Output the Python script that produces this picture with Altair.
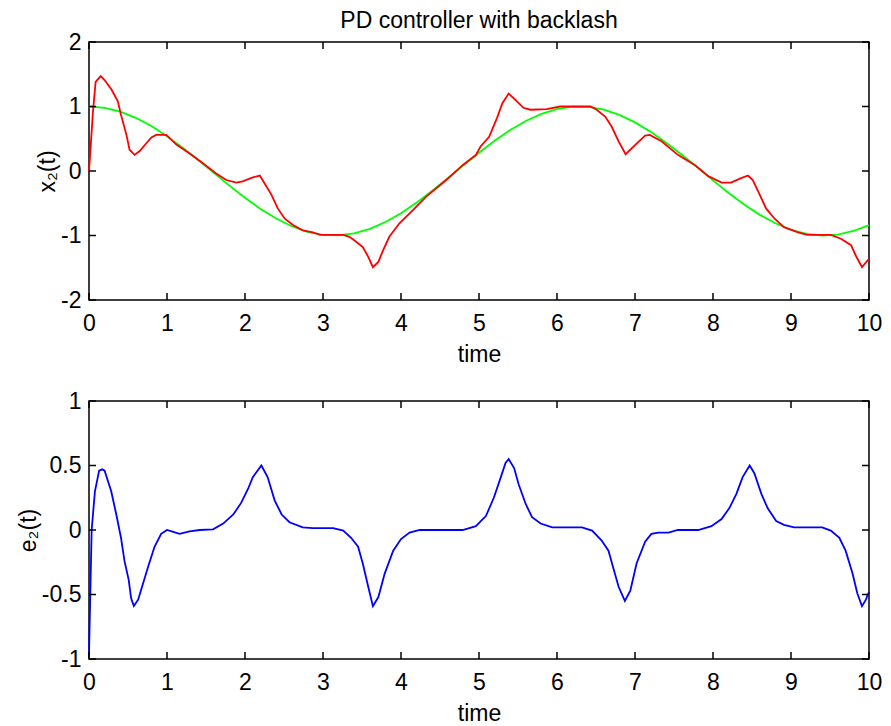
import altair as alt
import pandas as pd

# ---------------- data ----------------
x_ticks = [0, 1, 2, 3, 4, 5, 6, 7, 8, 9, 10]
top_y_ticks = [-2, -1, 0, 1, 2]
bot_y_ticks = [-1, -0.5, 0, 0.5, 1]
chart_title = ["PD controller with backlash"]

# reference trajectory (green)
green_t = [0, 0.2, 0.4, 0.6, 0.8, 1.0, 1.2, 1.4, 1.6, 1.8, 2.0, 2.2, 2.4, 2.6, 2.8,
           3.0, 3.2, 3.4, 3.6, 3.8, 4.0, 4.2, 4.4, 4.6, 4.8, 5.0, 5.2, 5.4, 5.6, 5.8,
           6.0, 6.2, 6.4, 6.6, 6.8, 7.0, 7.2, 7.4, 7.6, 7.8, 8.0, 8.2, 8.4, 8.6, 8.8,
           9.0, 9.2, 9.4, 9.6, 9.8, 10.0]
green_v = [1.00, 0.98, 0.92, 0.825, 0.697, 0.540, 0.362, 0.170, -0.029, -0.227, -0.416,
           -0.589, -0.737, -0.857, -0.942, -0.990, -0.998, -0.967, -0.897, -0.791, -0.654,
           -0.490, -0.307, -0.112, 0.087, 0.284, 0.469, 0.635, 0.776, 0.886, 0.960,
           0.997, 0.993, 0.950, 0.870, 0.754, 0.608, 0.439, 0.253, 0.058, -0.146,
           -0.340, -0.520, -0.680, -0.811, -0.911, -0.975, -1.000, -0.985, -0.930, -0.839]

# actual output x2(t) (red)
red_t = [0, 0.02, 0.05, 0.085, 0.15, 0.2, 0.29, 0.37, 0.41, 0.48, 0.52, 0.585, 0.65, 0.735,
         0.8, 0.86, 0.99, 1.12, 1.29, 1.46, 1.63, 1.76, 1.89, 1.97, 2.1, 2.19, 2.25, 2.34,
         2.42, 2.51, 2.62, 2.74, 2.87, 2.96, 3.26, 3.34, 3.43, 3.51, 3.58, 3.64, 3.71, 3.77,
         3.85, 3.98, 4.15, 4.32, 4.58, 4.79, 4.96, 5.02, 5.13, 5.23, 5.3, 5.38, 5.47, 5.57,
         5.66, 5.87, 6.04, 6.43, 6.51, 6.62, 6.70, 6.79, 6.88, 7.0, 7.13, 7.19, 7.34, 7.55,
         7.77, 7.94, 8.11, 8.23, 8.36, 8.45, 8.51, 8.60, 8.68, 8.79, 8.91, 9.09, 9.21, 9.51,
         9.64, 9.77, 9.83, 9.91, 10.0]
red_v = [0.0, 0.35, 0.91, 1.38, 1.47, 1.41, 1.26, 1.08, 0.87, 0.56, 0.33, 0.25, 0.31, 0.43,
         0.52, 0.56, 0.56, 0.41, 0.27, 0.12, -0.04, -0.14, -0.18, -0.16, -0.10, -0.07, -0.19,
         -0.37, -0.58, -0.74, -0.84, -0.92, -0.95, -0.99, -0.99, -1.02, -1.10, -1.18, -1.33,
         -1.49, -1.41, -1.23, -1.02, -0.81, -0.61, -0.40, -0.14, 0.09, 0.25, 0.38, 0.53, 0.82,
         1.05, 1.20, 1.10, 0.98, 0.95, 0.96, 1.0, 1.0, 0.95, 0.84, 0.69, 0.46, 0.26, 0.40,
         0.55, 0.56, 0.46, 0.25, 0.09, -0.08, -0.18, -0.18, -0.11, -0.07, -0.14, -0.37, -0.58,
         -0.74, -0.87, -0.95, -0.99, -0.99, -1.05, -1.15, -1.31, -1.49, -1.36]

# tracking error e2(t) (blue)
blue_t = [0, 0.034, 0.076, 0.13, 0.17, 0.2, 0.285, 0.35, 0.41, 0.455, 0.51, 0.54, 0.575,
          0.63, 0.69, 0.755, 0.84, 0.925, 1.0, 1.06, 1.16, 1.29, 1.42, 1.59, 1.72, 1.85,
          1.95, 2.04, 2.10, 2.21, 2.29, 2.38, 2.47, 2.57, 2.74, 2.87, 3.13, 3.26, 3.36,
          3.45, 3.51, 3.58, 3.64, 3.71, 3.79, 3.90, 4.0, 4.11, 4.24, 4.79, 4.96, 5.09,
          5.19, 5.28, 5.34, 5.38, 5.45, 5.51, 5.60, 5.68, 5.79, 5.94, 6.32, 6.45, 6.57,
          6.66, 6.72, 6.79, 6.87, 6.94, 7.02, 7.13, 7.21, 7.30, 7.43, 7.55, 7.81, 7.98,
          8.11, 8.21, 8.30, 8.38, 8.47, 8.53, 8.62, 8.70, 8.81, 8.91, 9.04, 9.40, 9.51,
          9.62, 9.70, 9.79, 9.85, 9.91, 9.96, 10.0]
blue_v = [-0.97, 0.0, 0.30, 0.46, 0.47, 0.46, 0.30, 0.12, -0.06, -0.24, -0.39, -0.53, -0.59,
          -0.54, -0.42, -0.29, -0.13, -0.03, 0.0, -0.01, -0.03, -0.01, 0.0, 0.005, 0.05, 0.12,
          0.21, 0.32, 0.41, 0.50, 0.41, 0.23, 0.12, 0.06, 0.02, 0.015, 0.015, -0.005, -0.06,
          -0.13, -0.26, -0.44, -0.59, -0.52, -0.34, -0.16, -0.07, -0.02, 0.0, 0.0, 0.03, 0.11,
          0.25, 0.41, 0.52, 0.55, 0.48, 0.35, 0.20, 0.10, 0.05, 0.02, 0.02, -0.005, -0.08,
          -0.16, -0.29, -0.44, -0.55, -0.47, -0.26, -0.09, -0.03, -0.02, -0.02, 0.0, 0.0, 0.03,
          0.085, 0.17, 0.28, 0.41, 0.50, 0.44, 0.28, 0.17, 0.07, 0.04, 0.02, 0.02, -0.005,
          -0.06, -0.16, -0.34, -0.49, -0.59, -0.54, -0.48]

# ---------------- styling ----------------
FONT = "Liberation Sans, Arial, DejaVu Sans"
FS = 23
W, H = 780, 258
TL = 7  # inward tick length (px)


def panel(series, y_ticks, y_dom, y_title, title=None):
    xs = alt.Scale(domain=[0, 10], nice=False, zero=False)
    ys = alt.Scale(domain=y_dom, nice=False, zero=False)
    xax = alt.Axis(values=x_ticks, ticks=False, domain=False, grid=False,
                   labelFlush=False, labelOverlap=False, labelPadding=12,
                   title="time", titlePadding=8)
    yax = alt.Axis(values=y_ticks, ticks=False, domain=False, grid=False,
                   labelFlush=False, labelOverlap=False, labelPadding=8,
                   labelExpr="toString(datum.value)", title=y_title, titlePadding=1)
    X = alt.X("t:Q", scale=xs, axis=xax)
    Y = alt.Y("v:Q", scale=ys, axis=yax)
    layers = []
    for t, v, color in series:
        df = pd.DataFrame({"t": t, "v": v})
        layers.append(alt.Chart(df).mark_line(color=color, strokeWidth=1.8)
                      .encode(x=X, y=Y))
    xt = pd.DataFrame({"t": x_ticks})
    yt = pd.DataFrame({"v": y_ticks})
    rs = dict(color="black", strokeWidth=1.5)
    layers.append(alt.Chart(xt).mark_rule(**rs).encode(x=X, y=alt.value(0), y2=alt.value(TL)))
    layers.append(alt.Chart(xt).mark_rule(**rs).encode(x=X, y=alt.value(H - TL), y2=alt.value(H)))
    layers.append(alt.Chart(yt).mark_rule(**rs).encode(y=Y, x=alt.value(0), x2=alt.value(TL)))
    layers.append(alt.Chart(yt).mark_rule(**rs).encode(y=Y, x=alt.value(W - TL), x2=alt.value(W)))
    if title:
        tdf = pd.DataFrame({"label": title})
        layers.append(alt.Chart(tdf).mark_text(font=FONT, fontSize=FS, color="black",
                                               align="center", baseline="alphabetic")
                      .encode(text="label:N", x=alt.value(W / 2), y=alt.value(-14.5)))
    return alt.layer(*layers).properties(width=W, height=H)


top = panel([(green_t, green_v, "#00FF00"), (red_t, red_v, "#FF0000")],
            top_y_ticks, [-2, 2], "x\u2082(t)", title=chart_title)
bottom = panel([(blue_t, blue_v, "#0000FF")], bot_y_ticks, [-1, 1], "e\u2082(t)")

chart = (
    alt.vconcat(top, bottom, spacing=22)
    .properties(padding={"left": 8, "top": 0, "right": 0, "bottom": 0}, background="white")
    .configure_view(stroke="black", strokeWidth=1.5)
    .configure_axis(labelFont=FONT, labelFontSize=FS, labelColor="black",
                    titleFont=FONT, titleFontSize=FS, titleFontWeight="normal",
                    titleColor="black")
)

chart.save("out.html", embed_options={"renderer": "svg", "actions": False})
